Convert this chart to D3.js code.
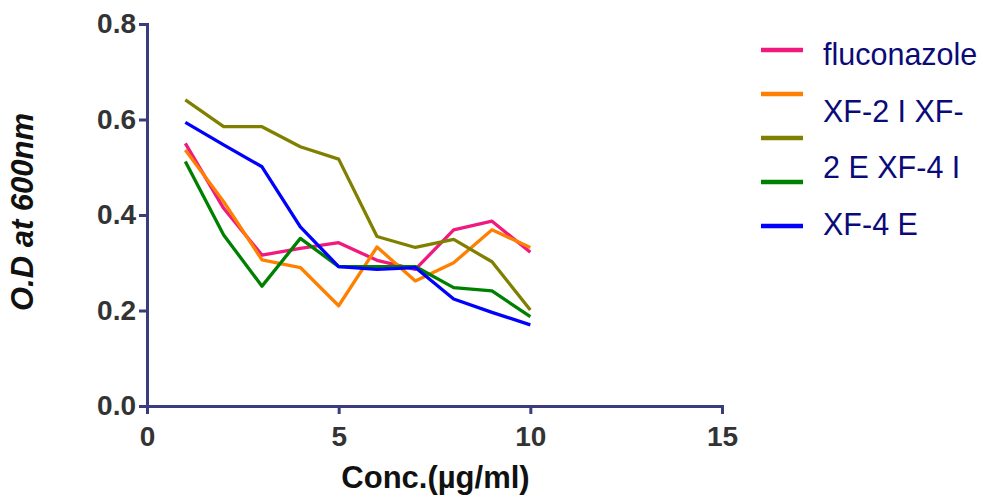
<!DOCTYPE html>
<html>
<head>
<meta charset="utf-8">
<script src="https://cdn.jsdelivr.net/npm/d3@7"></script>
<style>
  html, body { margin: 0; padding: 0; background: #fff; }
  svg { display: block; }
</style>
</head>
<body>
<svg id="chart" width="983" height="497"></svg>
<script>
// Concentrations (µg/ml)
const conc = [1, 2, 3, 4, 5, 6, 7, 8, 9, 10];

// Optical density at 600 nm for each treatment
const fluconazole = [0.550, 0.414, 0.316, 0.330, 0.342, 0.305, 0.286, 0.369, 0.387, 0.322];
const xf2I = [0.536, 0.428, 0.306, 0.290, 0.210, 0.333, 0.262, 0.300, 0.369, 0.332];
const xf2E = [0.641, 0.585, 0.585, 0.543, 0.517, 0.355, 0.332, 0.349, 0.302, 0.201];
const xf4I = [0.512, 0.358, 0.251, 0.351, 0.292, 0.292, 0.292, 0.248, 0.241, 0.187];
const xf4E = [0.594, 0.547, 0.501, 0.375, 0.292, 0.286, 0.290, 0.224, 0.196, 0.170];

const seriesNames = ["fluconazole", "XF-2 I", "XF-2 E", "XF-4 I", "XF-4 E"];
const seriesColors = ["#f0197d", "#ff8000", "#808000", "#008000", "#0000ff"];
// Legend text as it wraps in the legend column
const legendLines = ["fluconazole", "XF-2 I XF-", "2 E XF-4 I", "XF-4 E"];

const xTicks = [0, 5, 10, 15];
const yTicks = [0.0, 0.2, 0.4, 0.6, 0.8];

const series = [fluconazole, xf2I, xf2E, xf4I, xf4E].map((vals, i) => ({
  name: seriesNames[i],
  color: seriesColors[i],
  points: conc.map((c, j) => ({ x: c, y: vals[j] }))
}));

const svg = d3.select("#chart");
const font = "'Liberation Sans', Arial, Helvetica, sans-serif";
const axisColor = "#393d7d";

const x = d3.scaleLinear().domain([0, 15]).range([147, 722]);
const y = d3.scaleLinear().domain([0, 0.8]).range([406, 24]);

// Axes
const xAxis = svg.append("g")
  .attr("transform", `translate(0,${y(0)})`)
  .call(d3.axisBottom(x).tickValues(xTicks).tickFormat(d3.format("d")).tickSize(8).tickPadding(12));

const yAxis = svg.append("g")
  .attr("transform", `translate(${x(0)},0)`)
  .call(d3.axisLeft(y).tickValues(yTicks).tickFormat(d3.format(".1f")).tickSize(8).tickPadding(3));

[xAxis, yAxis].forEach(g => {
  g.selectAll("path.domain").attr("stroke", axisColor).attr("stroke-width", 3);
  g.selectAll(".tick line").attr("stroke", axisColor).attr("stroke-width", 3);
  g.selectAll(".tick text")
    .attr("fill", "#333333")
    .style("font-family", font)
    .style("font-weight", "bold")
    .style("font-size", "28px");
});

// Series lines
const line = d3.line().x(d => x(d.x)).y(d => y(d.y));
svg.append("g").selectAll("path.series")
  .data(series)
  .join("path")
  .attr("class", "series")
  .attr("d", d => line(d.points))
  .attr("fill", "none")
  .attr("stroke", d => d.color)
  .attr("stroke-width", 3.3)
  .attr("stroke-linejoin", "round");

// Axis titles
svg.append("text")
  .attr("transform", `translate(33,${(y(0) + y(0.8)) / 2 - 3}) rotate(-90)`)
  .attr("text-anchor", "middle")
  .style("font-family", font)
  .style("font-weight", "bold")
  .style("font-style", "italic")
  .style("font-size", "31px")
  .attr("fill", "#111111")
  .text("O.D at 600nm");

svg.append("text")
  .attr("x", (x(0) + x(15)) / 2 + 1)
  .attr("y", 488)
  .attr("text-anchor", "middle")
  .style("font-family", font)
  .style("font-weight", "bold")
  .style("font-size", "31px")
  .attr("fill", "#111111")
  .text("Conc.(µg/ml)");

// Legend: swatches and wrapped text column
const legend = svg.append("g");
legend.selectAll("line")
  .data(series)
  .join("line")
  .attr("x1", 761).attr("x2", 803)
  .attr("y1", (d, i) => 50 + i * 44)
  .attr("y2", (d, i) => 50 + i * 44)
  .attr("stroke", d => d.color)
  .attr("stroke-width", 4.5);

legend.selectAll("text")
  .data(legendLines)
  .join("text")
  .attr("x", 823)
  .attr("y", (d, i) => 65 + i * 56.7)
  .style("font-family", font)
  .style("font-size", "30.5px")
  .attr("fill", "#0a0a78")
  .text(d => d);
</script>
</body>
</html>
